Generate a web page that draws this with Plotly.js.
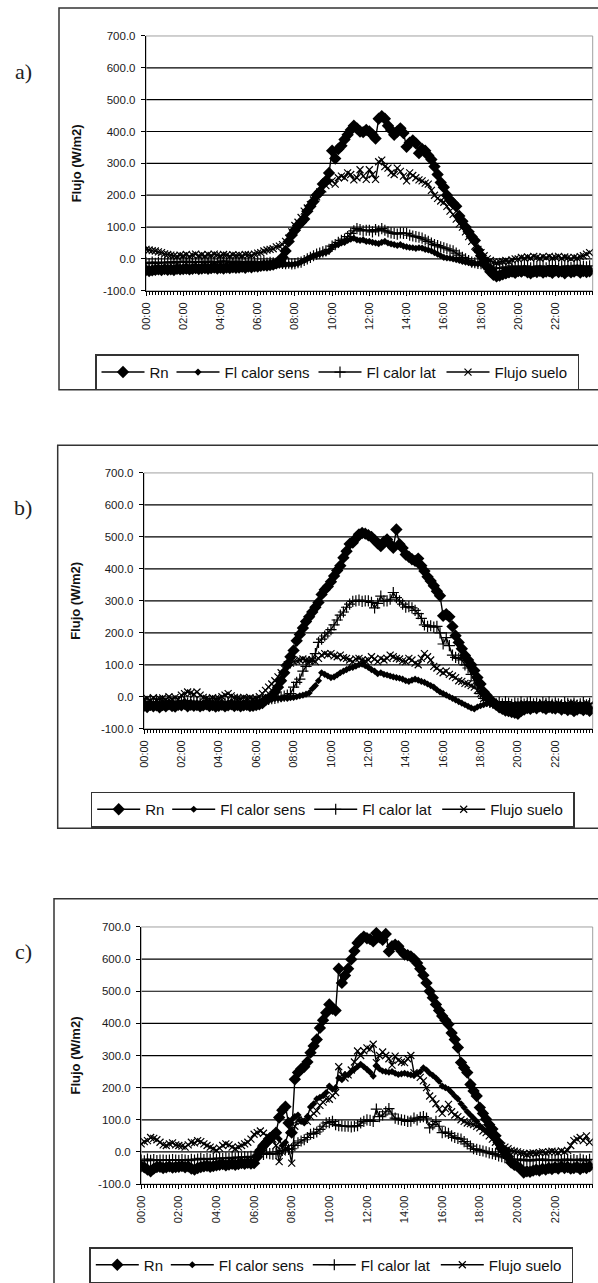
<!DOCTYPE html>
<html><head><meta charset="utf-8">
<script src="https://cdn.plot.ly/plotly-3.0.1.min.js"></script>
<style>html,body{margin:0;padding:0;background:#fff;overflow:hidden}#chart{width:598px;height:1283px}</style>
</head><body><div id="chart"></div>
<script>
// ---- categories / ticks ----
const timeLabels = ['00:00','02:00','04:00','06:00','08:00','10:00','12:00','14:00','16:00','18:00','20:00','22:00'];
const stepsPerLabel = 12;           // 10-minute data, label every 2 h
const nPoints = 144;
const yTickVals = [-100,0,100,200,300,400,500,600,700];
const yTickText = ['-100.0','0.0','100.0','200.0','300.0','400.0','500.0','600.0','700.0'];
const seriesNames = ['Rn','Fl calor sens','Fl calor lat','Flujo suelo'];
const panelLabels = ['a)','b)','c)'];
const yTitle = 'Flujo (W/m2)';

// ---- panel a ----
const rnA = [-35,-38,-36,-34,-33,-35, -32,-34,-33,-35,-31,-33, -32,-30,-33,-31,-29,-32, -30,-28,-31,-29,-27,-30,
 -28,-30,-27,-29,-26,-28, -27,-25,-28,-24,-26,-23, -24,-22,-20,-21,-19,-18, -14,-8,5,25,55,75,
 90,105,115,125,150,165, 180,200,210,235,245,270, 340,315,345,355,375,390, 405,418,410,400,398,405,
 400,390,378,440,448,440, 418,405,390,400,410,395, 352,365,372,363,332,345, 340,325,312,290,265,240,
 225,200,185,175,165,135, 118,100,85,70,58,28, 10,-8,-25,-40,-50,-55, -52,-48,-45,-42,-40,-44,
 -38,-40,-36,-42,-45,-39, -41,-37,-43,-40,-38,-44, -36,-41,-39,-45,-37,-42, -40,-36,-43,-38,-41,-39];
const sensA = [-40,-42,-38,-41,-39,-37, -38,-40,-36,-39,-37,-35, -36,-38,-34,-37,-35,-33, -34,-36,-32,-35,-33,-31,
 -32,-34,-30,-33,-31,-29, -30,-28,-31,-27,-29,-26, -27,-25,-26,-23,-24,-22, -21,-20,-19,-18,-17,-18,
 -16,-15,-10,-5,0,5, 10,12,15,18,20,25, 38,42,45,50,52,58, 62,65,60,58,60,55,
 55,52,50,48,52,55, 50,47,45,42,45,40, 38,36,35,33,35,34, 30,28,25,20,15,10,
 5,3,2,0,-2,-5, -8,-10,-12,-15,-14,-16, -15,-18,-22,-28,-35,-45, -55,-50,-52,-48,-45,-47,
 -44,-46,-42,-45,-43,-47, -42,-45,-40,-44,-46,-41, -43,-40,-45,-42,-38,-44, -41,-39,-43,-40,-42,-38];
const latA = [-12,-15,-10,-14,-11,-13, -10,-12,-9,-13,-8,-11, -10,-7,-12,-9,-11,-8, -9,-11,-7,-10,-8,-12,
 -9,-6,-10,-8,-11,-7, -10,-8,-12,-9,-7,-11, -10,-12,-9,-13,-11,-12, -13,-12,-14,-15,-13,-16,
 -15,-12,-10,-5,0,5, 10,15,18,22,25,30, 40,45,52,58,62,70, 80,88,95,92,88,90,
 90,85,92,88,95,90, 85,82,80,78,82,80, 80,75,72,70,68,65, 60,55,50,45,42,38,
 35,32,28,25,18,12, 5,0,-5,-10,-12,-14, -15,-18,-20,-25,-28,-30, -30,-28,-25,-28,-22,-26,
 -24,-27,-22,-25,-28,-23, -26,-22,-25,-28,-24,-21, -25,-28,-23,-26,-22,-27, -24,-20,-26,-23,-25,-22];
const sueloA = [30,28,26,25,22,20, 16,14,12,10,8,12, 10,14,8,12,15,10, 13,9,14,11,15,12,
 10,14,12,9,13,11, 12,10,14,13,11,15, 18,20,25,28,30,32, 38,40,45,55,65,85,
 105,115,130,150,160,170, 185,195,210,220,230,240, 245,235,255,260,255,270, 265,248,255,280,260,250,
 280,265,250,305,310,290, 285,270,265,285,275,260, 245,270,262,255,248,245, 238,235,215,200,190,182,
 178,165,150,140,125,110, 100,85,70,55,40,30, 20,10,0,-5,-10,-12, -10,-8,-5,-8,-3,0,
 0,5,2,6,3,8, 5,2,7,4,8,3, 5,8,2,6,4,1, 5,3,7,10,15,20];

// ---- panel b ----
const rnB = [-28,-32,-25,-30,-27,-33, -26,-30,-24,-29,-31,-25, -27,-22,-30,-25,-28,-26, -30,-27,-24,-29,-26,-31,
 -28,-25,-30,-27,-24,-29, -26,-30,-27,-25,-29,-28, -26,-24,-20,-10,-5,0, 15,30,50,75,100,125,
 145,175,195,215,235,250, 265,280,295,320,335,345, 360,378,395,410,435,455, 478,482,495,508,512,510,
 505,500,490,480,471,485, 492,477,466,523,477,465, 445,438,430,425,432,410, 393,375,362,347,330,316,
 253,258,250,220,191,170, 150,129,115,100,82,60, 40,15,4,-10,-17,-25, -33,-38,-43,-45,-48,-50,
 -53,-45,-40,-35,-38,-32, -36,-30,-34,-38,-32,-35, -37,-33,-40,-35,-42,-38, -45,-40,-36,-42,-38,-44];
const sensB = [-30,-28,-33,-26,-31,-29, -27,-32,-28,-25,-30,-27, -29,-26,-31,-28,-24,-27, -28,-31,-26,-30,-27,-29,
 -32,-28,-30,-26,-29,-31, -27,-30,-28,-32,-29,-26, -25,-20,-15,-10,-8,-7, -6,-5,-6,-4,-5,-3,
 -2,0,3,5,8,12, 25,35,50,75,70,65, 60,62,68,75,80,85, 90,92,96,100,102,97,
 92,85,80,72,75,70, 68,65,62,60,58,55, 50,48,52,55,52,48, 45,40,35,30,22,15,
 10,5,0,-5,-10,-15, -20,-25,-30,-35,-38,-32, -28,-25,-22,-20,-24,-26, -30,-33,-28,-31,-35,-29,
 -32,-28,-34,-30,-27,-33, -29,-35,-31,-28,-33,-30, -34,-30,-27,-32,-36,-31, -38,-33,-35,-30,-36,-32];
const latB = [-18,-22,-15,-20,-17,-23, -16,-20,-14,-19,-21,-15, -17,-12,-20,-15,-18,-16, -20,-17,-14,-19,-16,-21,
 -18,-15,-20,-17,-14,-19, -16,-20,-17,-15,-19,-18, -16,-14,-12,-10,-8,-6, -5,-3,0,2,5,10,
 30,45,55,80,95,110, 118,135,170,180,190,200, 210,225,240,255,265,280, 290,298,300,302,298,300,
 300,295,278,292,315,300, 300,305,326,310,300,290, 280,282,278,270,260,245, 225,220,222,218,220,200,
 165,185,160,130,123,120, 115,100,90,70,50,30, 10,-5,-12,-18,-20,-22, -18,-22,-15,-20,-24,-19,
 -21,-17,-23,-19,-16,-22, -20,-24,-18,-21,-17,-23, -19,-22,-25,-18,-21,-24, -20,-26,-22,-18,-25,-21];
const sueloB = [-8,-5,-12,-3,-10,-6, -4,-9,0,-7,-2,-8, 5,10,15,12,8,15, 5,-2,-5,-8,-3,-6,
 -5,0,5,10,3,-2, -4,-6,-2,-5,-3,-7, -5,0,10,20,30,40, 50,62,75,88,100,105,
 110,112,115,118,115,112, 115,110,120,130,135,132, 135,128,125,130,122,120, 115,110,118,120,115,112,
 115,125,118,110,120,115, 120,130,125,120,118,112, 110,120,115,105,100,120, 135,125,115,95,90,80,
 75,80,70,65,60,50, 48,42,40,35,30,20, 10,-5,-15,-20,-22,-25, -28,-30,-25,-27,-32,-26,
 -24,-28,-22,-26,-30,-25, -23,-27,-20,-25,-22,-28, -24,-21,-26,-29,-23,-20, -22,-25,-28,-24,-20,-26];

// ---- panel c ----
const rnC = [-45,-48,-55,-60,-52,-47, -46,-50,-48,-45,-49,-47, -46,-44,-48,-45,-52,-55, -50,-47,-45,-43,-46,-44,
 -42,-40,-38,-42,-39,-37, -40,-38,-35,-37,-34,-36, -35,-15,5,20,30,40, 50,60,107,130,141,90,
 60,226,247,258,265,280, 309,330,350,386,410,433, 459,445,440,570,526,549, 570,599,625,650,661,670,
 665,662,655,681,668,660, 678,624,640,645,640,625, 614,612,608,600,588,570, 550,526,500,480,459,440,
 423,410,397,370,350,325, 278,262,247,210,190,174, 138,120,102,85,71,50, 29,10,0,-15,-33,-40,
 -45,-52,-64,-60,-62,-58, -55,-58,-52,-55,-50,-53, -48,-52,-45,-50,-47,-52, -50,-47,-53,-48,-50,-45];
const sensC = [-40,-45,-55,-58,-48,-44, -42,-45,-43,-40,-44,-42, -41,-39,-43,-40,-45,-50, -46,-42,-40,-38,-41,-39,
 -37,-36,-34,-38,-35,-33, -35,-33,-31,-34,-32,-30, -28,0,15,25,35,40, 45,50,40,20,30,60,
 100,110,115,95,90,110, 140,150,165,170,175,185, 205,195,200,230,225,240, 240,250,257,265,273,265,
 257,248,236,267,258,252, 250,248,250,245,241,243, 245,242,240,238,245,250, 262,255,245,238,230,220,
 205,200,195,185,174,165, 150,138,125,115,105,95, 81,72,65,55,45,35, 20,5,-10,-20,-30,-38,
 -48,-52,-55,-58,-55,-57, -55,-52,-56,-50,-53,-48, -50,-46,-52,-48,-50,-47, -49,-45,-51,-47,-52,-48];
const latC = [-25,-28,-22,-26,-24,-27, -25,-25,-26,-25,-24,-25, -26,-24,-25,-27,-23,-25, -22,-20,-24,-21,-23,-20,
 -22,-19,-21,-18,-20,-17, -19,-16,-18,-15,-17,-14, -16,-10,-5,-8,-3,-5, -7,-5,0,5,10,8,
 10,20,28,34,38,45, 55,58,62,70,80,90, 91,95,85,82,81,80, 80,78,80,82,90,95,
 100,98,95,133,110,115, 125,135,118,105,102,100, 98,95,96,105,100,108, 110,105,75,85,95,80,
 60,62,58,50,45,42, 40,32,25,18,10,8, 5,3,0,-3,-5,-8, -12,-15,-18,-20,-22,-24,
 -25,-22,-27,-24,-28,-25, -23,-26,-22,-25,-27,-24, -26,-23,-28,-25,-22,-26, -24,-27,-22,-25,-28,-23];
const sueloC = [25,32,35,45,42,38, 30,22,20,25,28,22, 20,18,15,22,30,28, 35,32,25,20,15,10,
 5,12,20,25,22,15, 10,15,20,25,30,40, 55,60,65,58,50,45, 40,20,-30,0,10,15,
 -35,80,100,95,98,95, 110,120,128,145,155,165, 164,175,185,265,240,230, 240,255,280,314,300,315,
 324,320,335,278,300,311, 300,290,270,298,285,280, 278,290,300,247,240,232, 221,200,174,165,150,133,
 120,135,148,125,115,110, 100,95,90,88,85,80, 75,65,60,50,40,30, 20,18,15,10,5,2,
 0,-3,-5,-8,-5,-3, -5,-2,0,-3,0,2, 0,-2,3,0,5,20, 35,40,45,35,50,30];

// ---- geometry (pixels of the 598x1283 page) ----
const W = 598, H = 1283;
const fx = p => p / W;
const fy = p => 1 - p / H;
const plotRight = 592.7;
const panels = [
  {key:'',  data:[rnA,sensA,latA,sueloA], left:146.0, top:36.0,  bottom:291.0,  box:[59.0,8.0,390.0],    leg:[95.0,354.3],  labY:72},
  {key:'2', data:[rnB,sensB,latB,sueloB], left:144.0, top:473.3, bottom:729.3,  box:[57.7,445.5,829.0],  leg:[90.7,791.5],  labY:508},
  {key:'3', data:[rnC,sensC,latC,sueloC], left:141.2, top:927.7, bottom:1185.0, box:[54.0,899.5,1300.0], leg:[89.3,1247.7], labY:952}
];
const styles = [
  {symbol:'diamond', size:9.5, lw:0, legendwidth:17},
  {symbol:'diamond', size:5.5, lw:0, legendwidth:84},
  {symbol:'cross-thin-open', size:8, lw:1.2, legendwidth:70},
  {symbol:'x-thin-open', size:7, lw:1.2, legendwidth:78}
];

const xIdx = Array.from({length:nPoints}, (_, i) => i);
const xTickVals = timeLabels.map((_, k) => k * stepsPerLabel);
const font = 'Liberation Sans, Arial, sans-serif';

const traces = [];
const layout = {
  width: W, height: H, margin: {l:0, r:0, t:0, b:0},
  paper_bgcolor: '#fff', plot_bgcolor: '#fff',
  font: {family: font, color: '#111'},
  showlegend: true, hovermode: false,
  shapes: [], annotations: []
};

panels.forEach((p, pi) => {
  const k = p.key;
  p.data.forEach((vals, si) => {
    const st = styles[si];
    traces.push({
      type: 'scatter', mode: 'lines+markers',
      x: xIdx, y: vals, name: seriesNames[si],
      xaxis: 'x' + k, yaxis: 'y' + k, legend: 'legend' + k,
      legendwidth: st.legendwidth,
      line: {color: '#000', width: 1.4},
      marker: {symbol: st.symbol, size: st.size, color: '#000', line: {color: '#000', width: st.lw}},
      hoverinfo: 'skip'
    });
  });
  layout['xaxis' + k] = {
    domain: [fx(p.left), fx(plotRight)], range: [0, nPoints], anchor: 'y' + k,
    tickmode: 'array', tickvals: xTickVals, ticktext: timeLabels, tickangle: -90,
    ticks: 'outside', ticklen: 4, tickcolor: '#000', tickwidth: 1, ticklabelstandoff: 2,
    minor: {dtick: 1, tick0: 0, ticks: 'outside', ticklen: 3, tickcolor: '#000', tickwidth: 1, showgrid: false},
    showline: true, linecolor: '#000', linewidth: 1.2,
    showgrid: false, zeroline: false, fixedrange: true,
    tickfont: {family: font, size: 11, color: '#1a1a1a'}
  };
  layout['yaxis' + k] = {
    domain: [fy(p.bottom), fy(p.top)], range: [-100, 700], anchor: 'x' + k,
    tickmode: 'array', tickvals: yTickVals, ticktext: yTickText,
    ticks: 'outside', ticklen: 4, tickcolor: '#000', tickwidth: 1, ticklabelstandoff: 3,
    showline: true, linecolor: '#000', linewidth: 1.2,
    showgrid: false, zeroline: false, fixedrange: true,
    tickfont: {family: font, size: 11.5, color: '#1a1a1a'}
  };
  const xd = 'x' + k + ' domain';
  // horizontal gridlines at inner tick values
  yTickVals.filter(v => v > yTickVals[0] && v < yTickVals[yTickVals.length - 1]).forEach(v => {
    layout.shapes.push({type: 'line', xref: xd, yref: 'y' + k, x0: 0, x1: 1, y0: v, y1: v,
      line: {color: '#000', width: 1.2}, layer: 'below'});
  });
  // grey plot-area frame
  layout.shapes.push({type: 'rect', xref: xd, yref: 'y' + k + ' domain', x0: 0, x1: 1, y0: 0, y1: 1,
    line: {color: '#a0a0a0', width: 1}, layer: 'below'});
  // panel box
  layout.shapes.push({type: 'rect', xref: 'paper', yref: 'paper',
    x0: fx(p.box[0]), x1: fx(W + 20), y0: fy(p.box[2]), y1: fy(p.box[1]),
    line: {color: '#333', width: 1.5}, layer: 'below'});
  // legend
  layout['legend' + k] = {
    x: fx(p.leg[0]), y: fy(p.leg[1]), xanchor: 'left', yanchor: 'top',
    orientation: 'h', bgcolor: '#fff', bordercolor: '#333', borderwidth: 1.5,
    font: {family: font, size: 15, color: '#111'}, itemwidth: 43, traceorder: 'normal',
    itemclick: false, itemdoubleclick: false
  };
  // panel label
  layout.annotations.push({xref: 'paper', yref: 'paper', x: fx(23), y: fy(p.labY),
    text: panelLabels[pi], showarrow: false, xanchor: 'center', yanchor: 'middle',
    font: {family: 'Liberation Serif, Times New Roman, serif', size: 22, color: '#222'}});
  // y-axis title
  layout.annotations.push({xref: 'paper', yref: 'paper', x: fx(76), y: fy((p.top + p.bottom) / 2),
    text: '<b>' + yTitle + '</b>', showarrow: false, textangle: -90, xanchor: 'center', yanchor: 'middle',
    font: {family: font, size: 13, color: '#111'}});
});

Plotly.newPlot('chart', traces, layout, {staticPlot: true, displayModeBar: false});
</script></body></html>
